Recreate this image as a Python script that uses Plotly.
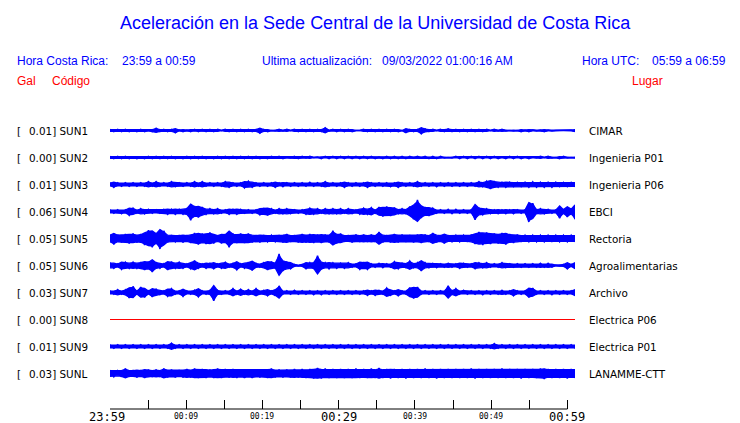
import plotly.graph_objects as go

# ---------------- data ----------------
STATIONS = ["SUN1", "SUN2", "SUN3", "SUN4", "SUN5", "SUN6", "SUN7", "SUN8", "SUN9", "SUNL"]
PLACES = ["CIMAR", "Ingenieria P01", "Ingenieria P06", "EBCI", "Rectoria",
          "Agroalimentarias", "Archivo", "Electrica P06", "Electrica P01", "LANAMME-CTT"]
PEAK_GAL = [0.01, 0.00, 0.01, 0.06, 0.05, 0.05, 0.03, 0.00, 0.01, 0.03]
STATION_ACTIVE = [True, True, True, True, True, True, True, False, True, True]

TICK_MINUTES = [0, 5, 10, 15, 20, 25, 30, 35, 40, 45, 50, 55, 60]
TICK_LABELS = ["23:59", "", "00:09", "", "00:19", "", "00:29", "", "00:39", "", "00:49", "", "00:59"]
MAJOR_TICK_LABELS = ["23:59", "00:29", "00:59"]
WINDOW_MINUTES = 61  # 23:59 -> 01:00

# envelope amplitude of each record (relative units), 122 samples across the window
ENV_SUN1 = [2, 2, 2, 2, 2, 2, 1, 2, 2, 2, 1, 2, 4, 2, 2, 2, 2, 4, 1, 2, 1, 2, 2, 2, 2, 2, 2, 2, 2, 0,
            2, 2, 2, 2, 2, 2, 2, 2, 2, 5, 2, 2, 0, 1, 2, 1, 2, 0, 2, 2, 2, 2, 2, 2, 2, 2, 5, 1, 2, 2,
            2, 2, 2, 2, 0, 0, 2, 2, 2, 2, 2, 2, 2, 2, 2, 2, 0, 4, 2, 2, 2, 6, 3, 2, 2, 0, 2, 2, 3, 2,
            2, 2, 2, 2, 2, 2, 2, 2, 2, 0, 2, 1, 2, 1, 0, 1, 0, 2, 1, 2, 1, 1, 1, 2, 1, 1, 0, 0, 0, 0,
            1, 2]
ENV_SUN2 = [2, 2, 2, 2, 2, 2, 1, 2, 1, 2, 2, 2, 2, 2, 2, 2, 2, 2, 1, 2, 2, 2, 2, 2, 2, 2, 1, 2, 2, 2,
            2, 2, 2, 2, 2, 2, 2, 2, 2, 2, 1, 2, 2, 1, 2, 2, 1, 1, 2, 2, 2, 1, 2, 0, 1, 2, 2, 2, 2, 2,
            2, 2, 2, 2, 2, 2, 2, 2, 2, 2, 1, 2, 2, 2, 2, 2, 2, 2, 2, 1, 2, 1, 2, 2, 2, 2, 2, 1, 0, 1,
            2, 2, 2, 2, 2, 2, 2, 2, 2, 2, 2, 2, 1, 2, 2, 2, 2, 2, 1, 2, 1, 1, 2, 0, 2, 1, 0, 2, 2, 1,
            0, 1]
ENV_SUN3 = [3, 5, 3, 3, 3, 3, 3, 3, 3, 3, 5, 3, 5, 3, 3, 3, 5, 4, 3, 3, 3, 3, 5, 3, 5, 3, 3, 3, 3, 3,
            5, 5, 3, 3, 3, 6, 6, 5, 3, 3, 3, 3, 3, 5, 3, 4, 3, 3, 3, 3, 3, 3, 4, 3, 3, 3, 5, 3, 3, 3,
            3, 5, 3, 3, 3, 3, 3, 5, 3, 3, 3, 3, 3, 4, 3, 5, 3, 3, 3, 3, 5, 3, 3, 3, 3, 4, 3, 3, 3, 3,
            3, 3, 3, 3, 3, 3, 5, 4, 6, 8, 6, 5, 4, 5, 4, 4, 4, 4, 4, 5, 5, 5, 4, 5, 4, 5, 4, 4, 4, 4,
            4, 4]
ENV_SUN4 = [3, 3, 3, 4, 3, 7, 6, 3, 5, 4, 4, 3, 3, 3, 4, 5, 4, 5, 4, 5, 6, 16, 10, 11, 8, 5, 5, 4, 5, 3,
            3, 5, 4, 5, 4, 3, 3, 3, 3, 6, 6, 7, 5, 3, 5, 4, 5, 4, 3, 3, 3, 5, 6, 5, 5, 3, 5, 4, 5, 4,
            5, 3, 5, 4, 3, 5, 6, 5, 7, 3, 8, 9, 9, 8, 7, 4, 5, 4, 9, 14, 21, 12, 8, 8, 6, 3, 3, 3, 4, 4,
            4, 3, 3, 3, 3, 15, 7, 6, 5, 4, 3, 4, 3, 4, 3, 4, 3, 3, 3, 19, 15, 4, 5, 4, 4, 3, 3, 12, 4, 10,
            5, 14]
ENV_SUN5 = [7, 11, 7, 7, 8, 9, 9, 7, 8, 12, 15, 16, 10, 19, 14, 7, 6, 6, 6, 7, 6, 8, 10, 11, 9, 10, 11, 9, 6, 9,
            8, 16, 9, 8, 9, 8, 9, 7, 6, 7, 6, 6, 6, 6, 6, 7, 8, 6, 6, 7, 8, 7, 8, 8, 7, 8, 7, 7, 14, 9,
            9, 6, 6, 7, 7, 6, 7, 6, 7, 6, 12, 7, 6, 7, 8, 7, 7, 6, 6, 7, 7, 8, 7, 6, 10, 7, 6, 9, 6, 6,
            6, 6, 6, 6, 7, 10, 12, 12, 11, 10, 9, 9, 10, 11, 8, 8, 7, 6, 6, 6, 6, 6, 6, 6, 6, 5, 6, 6, 6, 6,
            6, 6]
ENV_SUN6 = [5, 5, 3, 7, 6, 5, 6, 5, 6, 8, 7, 12, 6, 5, 3, 8, 7, 5, 6, 5, 3, 6, 9, 5, 3, 5, 4, 6, 3, 5,
            6, 3, 4, 8, 3, 5, 6, 9, 4, 3, 5, 8, 7, 5, 21, 10, 7, 6, 2, 1, 2, 6, 5, 6, 18, 7, 5, 6, 5, 5,
            4, 5, 5, 3, 3, 7, 6, 7, 3, 3, 4, 4, 3, 3, 7, 6, 4, 4, 8, 4, 5, 10, 5, 4, 4, 4, 3, 3, 4, 3,
            3, 5, 4, 3, 3, 6, 5, 4, 5, 3, 3, 3, 5, 4, 3, 3, 3, 3, 3, 3, 3, 3, 4, 3, 4, 3, 1, 1, 2, 6,
            2, 6]
ENV_SUN7 = [3, 3, 5, 3, 5, 10, 11, 3, 10, 9, 3, 8, 6, 4, 3, 7, 7, 3, 3, 7, 3, 3, 4, 8, 3, 3, 4, 15, 4, 3,
            3, 3, 7, 3, 6, 3, 5, 3, 7, 3, 4, 6, 3, 6, 12, 3, 3, 3, 4, 3, 3, 3, 3, 4, 3, 4, 3, 3, 3, 3,
            3, 3, 3, 3, 3, 3, 3, 5, 3, 5, 4, 3, 8, 5, 3, 6, 3, 3, 9, 11, 10, 3, 3, 3, 3, 3, 3, 3, 12, 4,
            7, 3, 4, 3, 3, 3, 3, 4, 3, 3, 3, 3, 4, 3, 3, 6, 3, 3, 3, 9, 8, 3, 3, 3, 3, 4, 3, 3, 3, 3,
            3, 6]
ENV_SUN8 = [0, 0, 0, 0, 0, 0, 0, 0, 0, 0, 0, 0, 0, 0, 0, 0, 0, 0, 0, 0, 0, 0, 0, 0, 0, 0, 0, 0, 0, 0,
            0, 0, 0, 0, 0, 0, 0, 0, 0, 0, 0, 0, 0, 0, 0, 0, 0, 0, 0, 0, 0, 0, 0, 0, 0, 0, 0, 0, 0, 0,
            0, 0, 0, 0, 0, 0, 0, 0, 0, 0, 0, 0, 0, 0, 0, 0, 0, 0, 0, 0, 0, 0, 0, 0, 0, 0, 0, 0, 0, 0,
            0, 0, 0, 0, 0, 0, 0, 0, 0, 0, 0, 0, 0, 0, 0, 0, 0, 0, 0, 0, 0, 0, 0, 0, 0, 0, 0, 0, 0, 0,
            0, 0]
ENV_SUN9 = [3, 3, 3, 3, 3, 3, 3, 3, 3, 3, 3, 3, 3, 3, 3, 3, 6, 3, 3, 3, 3, 3, 3, 3, 3, 3, 3, 3, 3, 3,
            3, 3, 3, 3, 3, 3, 3, 3, 3, 3, 3, 3, 3, 3, 3, 3, 3, 3, 3, 3, 3, 3, 3, 3, 3, 3, 3, 3, 3, 3,
            3, 3, 3, 3, 3, 3, 3, 3, 3, 3, 3, 3, 3, 3, 3, 3, 3, 3, 3, 3, 3, 3, 3, 3, 3, 3, 3, 3, 3, 3,
            3, 3, 3, 3, 3, 3, 3, 3, 3, 3, 5, 3, 3, 3, 3, 3, 3, 3, 3, 3, 3, 3, 3, 3, 3, 3, 3, 3, 3, 3,
            3, 3]
ENV_SUNL = [6, 6, 5, 6, 9, 6, 6, 7, 6, 8, 7, 6, 7, 6, 9, 7, 7, 7, 6, 7, 8, 7, 9, 8, 8, 8, 7, 8, 9, 8,
            8, 7, 8, 8, 7, 8, 7, 8, 7, 7, 7, 8, 9, 7, 7, 7, 7, 7, 8, 7, 8, 8, 8, 9, 10, 9, 9, 8, 8, 8,
            8, 8, 8, 8, 9, 8, 8, 8, 9, 8, 10, 8, 8, 9, 8, 8, 8, 9, 8, 8, 8, 8, 9, 8, 8, 9, 8, 8, 8, 8,
            8, 8, 8, 8, 9, 9, 8, 8, 8, 8, 8, 8, 9, 8, 8, 8, 8, 9, 8, 8, 8, 8, 9, 10, 8, 8, 8, 8, 8, 9,
            8, 8]

ENVELOPES = [ENV_SUN1, ENV_SUN2, ENV_SUN3, ENV_SUN4, ENV_SUN5,
             ENV_SUN6, ENV_SUN7, ENV_SUN8, ENV_SUN9, ENV_SUNL]

# ---------------- style ----------------
BLUE = "#0000ff"
RED = "#ff0000"
W, H = 740, 423
ML, MR, MT, MB = 110, 165, 114, 14
ROW_PX = 27
PLOT_W = W - ML - MR
PLOT_H = H - MT - MB
AMP_SCALE = 0.55 / ROW_PX  # relative amplitude unit -> row units
CORE_FRACTION = 0.85       # solid core drawn under the oscillating trace
Y_BOTTOM = -35.5 / ROW_PX  # rows land on pixel centres
Y_TOP = Y_BOTTOM + PLOT_H / ROW_PX

fig = go.Figure()

n = len(STATIONS)
for i, (env, active) in enumerate(zip(ENVELOPES, STATION_ACTIVE)):
    offset = n - 1 - i
    m = len(env)
    t = [k * WINDOW_MINUTES / (m - 1) for k in range(m)]
    if active:
        # solid core of the record
        upper = [offset + a * AMP_SCALE * CORE_FRACTION for a in env]
        lower = [offset - a * AMP_SCALE * CORE_FRACTION for a in env]
        fig.add_trace(go.Scatter(
            x=t + t[::-1], y=upper + lower[::-1], mode="lines",
            fill="toself", fillcolor=BLUE,
            line=dict(color=BLUE, width=1.3), hoverinfo="skip"))
        # oscillating trace reaching the envelope
        osc = [offset + (a if k % 2 == 0 else -a) * AMP_SCALE for k, a in enumerate(env)]
        fig.add_trace(go.Scatter(
            x=t, y=osc, mode="lines",
            line=dict(color=BLUE, width=1.5), hoverinfo="skip"))
    else:
        fig.add_trace(go.Scatter(
            x=t, y=[offset + a * AMP_SCALE for a in env], mode="lines",
            line=dict(color=RED, width=1), hoverinfo="skip"))


def px_to_paper_x(px):
    return (px - ML) / PLOT_W


def ann_top(text, px_x, px_y, size, color, family, anchor="left"):
    fig.add_annotation(
        x=px_to_paper_x(px_x), xref="paper", y=1, yref="paper",
        yshift=MT - px_y, xanchor=anchor, yanchor="middle",
        text=text, showarrow=False,
        font=dict(size=size, color=color, family=family))


SANS = "Liberation Sans, Arial, sans-serif"
DJV = "DejaVu Sans, sans-serif"
MONO = "DejaVu Sans Mono, monospace"

ann_top("Aceleración en la Sede Central de la Universidad de Costa Rica", 375, 23, 18, BLUE, SANS, "center")
ann_top("Hora Costa Rica:", 15, 61, 12, BLUE, SANS)
ann_top("23:59 a 00:59", 120, 61, 12, BLUE, SANS)
ann_top("Ultima actualización:", 260, 61, 12, BLUE, SANS)
ann_top("09/03/2022 01:00:16 AM", 380, 61, 12, BLUE, SANS)
ann_top("Hora UTC:", 580, 61, 12, BLUE, SANS)
ann_top("05:59 a 06:59", 650, 61, 12, BLUE, SANS)
ann_top("Gal", 15, 81, 12, RED, SANS)
ann_top("Código", 50, 81, 12, RED, SANS)
ann_top("Lugar", 630, 81, 12, RED, SANS)

for i, (st, place, g) in enumerate(zip(STATIONS, PLACES, PEAK_GAL)):
    offset = n - 1 - i
    fig.add_annotation(x=px_to_paper_x(15), xref="paper", y=offset, yref="y",
                       xanchor="left", yanchor="middle", text="[", showarrow=False,
                       font=dict(size=10.4, color="black", family=DJV))
    fig.add_annotation(x=px_to_paper_x(27), xref="paper", y=offset, yref="y",
                       xanchor="left", yanchor="middle", text=f"{g:.2f}] {st}", showarrow=False,
                       font=dict(size=10.4, color="black", family=DJV))
    fig.add_annotation(x=px_to_paper_x(587), xref="paper", y=offset, yref="y",
                       xanchor="left", yanchor="middle", text=place, showarrow=False,
                       font=dict(size=10.4, color="black", family=DJV))

for tv, tl in zip(TICK_MINUTES, TICK_LABELS):
    if not tl:
        continue
    major = tl in MAJOR_TICK_LABELS
    fig.add_annotation(x=tv, xref="x", y=0, yref="paper",
                       xanchor="center", yanchor="middle",
                       yshift=-8 if major else -7,
                       xshift=-3 if tv == TICK_MINUTES[0] else 0,
                       text=tl, showarrow=False,
                       font=dict(size=12 if major else 8, color="black", family=MONO))

# axis baseline from first to last tick
fig.add_shape(type="line", xref="x", yref="paper",
              x0=TICK_MINUTES[0], x1=TICK_MINUTES[-1], y0=0, y1=0,
              line=dict(color="black", width=1))

fig.update_layout(
    width=W, height=H,
    margin=dict(l=ML, r=MR, t=MT, b=MB),
    paper_bgcolor="white", plot_bgcolor="white",
    showlegend=False,
    xaxis=dict(range=[0, WINDOW_MINUTES], showgrid=False, zeroline=False,
               showline=False, tickmode="array", tickvals=TICK_MINUTES,
               showticklabels=False, ticks="inside", ticklen=9,
               tickcolor="black", tickwidth=1, fixedrange=True),
    yaxis=dict(range=[Y_BOTTOM, Y_TOP], showgrid=False, zeroline=False,
               showline=False, showticklabels=False, ticks="", fixedrange=True),
)

fig.write_html("out.html", config={"displayModeBar": False},
               post_script="document.body.style.margin='0px';")
